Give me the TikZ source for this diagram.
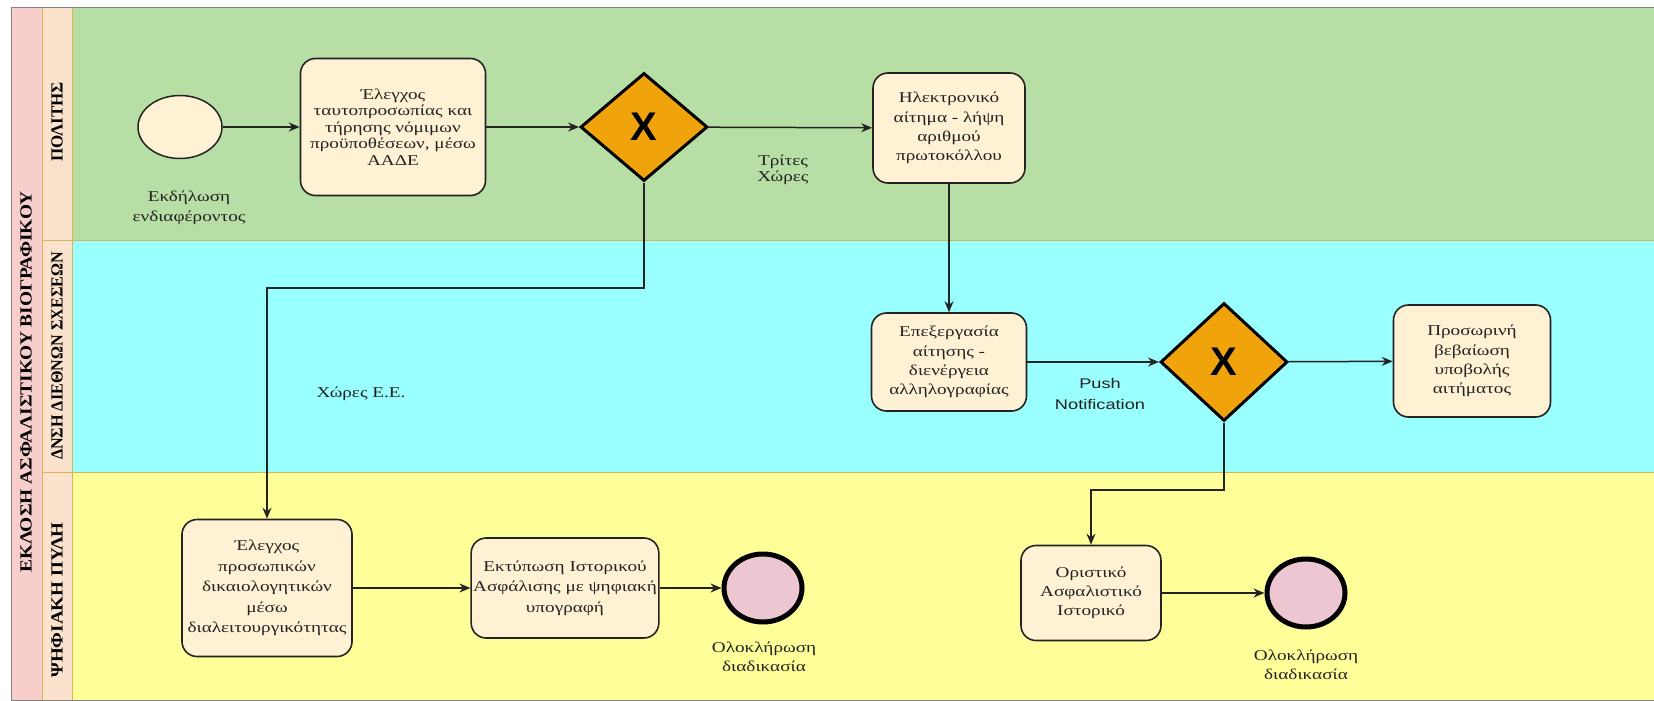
\documentclass[tikz,border=0pt]{standalone}
\usepackage{fontspec}
\setmainfont[FakeStretch=1.28]{Liberation Serif}
\newfontfamily\flowsans[FakeStretch=1.3]{Liberation Sans}
\newfontfamily\gatefont{Liberation Sans}
\newfontfamily\lanefont{Liberation Serif}
\usepackage{xcolor}
\usepackage{tikz}
\usetikzlibrary{arrows.meta}
\usetikzlibrary{shapes.geometric}

\definecolor{citizenlane}{RGB}{183,222,165}
\definecolor{officelane}{RGB}{153,255,255}
\definecolor{portallane}{RGB}{255,255,153}
\definecolor{poolfill}{RGB}{248,206,204}
\definecolor{poolline}{RGB}{200,110,110}
\definecolor{lanefill}{RGB}{251,226,204}
\definecolor{laneline}{RGB}{214,182,86}
\definecolor{taskfill}{RGB}{255,242,212}
\definecolor{gatefill}{RGB}{240,163,10}
\definecolor{endfill}{RGB}{236,198,208}
\definecolor{inkgray}{RGB}{35,35,35}

\begin{document}
\begin{tikzpicture}[x=1pt,y=-1pt,
    task/.style={draw=inkgray, line width=1.6pt, fill=taskfill, rounded corners=15pt,
        align=center, text=inkgray, font=\fontsize{15}{19.3}\selectfont, inner sep=2pt},
    gate/.style={diamond, draw=black, line width=3pt, fill=gatefill, inner sep=0pt,
        text=black, font=\gatefont\bfseries\fontsize{40}{40}\selectfont},
    startev/.style={ellipse, draw=inkgray, line width=1.5pt, fill=taskfill, inner sep=0pt,
        minimum width=84pt, minimum height=63pt},
    endev/.style={ellipse, draw=black, line width=5pt, fill=endfill, inner sep=0pt,
        minimum width=78pt, minimum height=68pt},
    caption/.style={align=center, text=inkgray, font=\fontsize{15}{19.5}\selectfont},
    lanetitle/.style={rotate=90, text=black, font=\lanefont\bfseries\fontsize{17}{17}\selectfont},
    flow/.style={draw=inkgray, line width=1.5pt, -{Stealth[length=11pt,width=9pt]}}]
    \useasboundingbox (0,0) rectangle (1654,701);
    \fill[white] (0,0) rectangle (1654,701);
    \fill[citizenlane] (72,8) rectangle (1654,240);
    \fill[officelane] (72,240) rectangle (1654,472);
    \fill[portallane] (72,472) rectangle (1654,700);
    \draw[laneline, line width=1pt] (72,240) -- (1654,240);
    \draw[laneline, line width=1pt] (72,472) -- (1654,472);
    \draw[poolline, fill=poolfill, line width=1pt] (11,8) rectangle (42,700);
    \draw[laneline, fill=lanefill, line width=1pt] (42,8) rectangle (72,240);
    \draw[laneline, fill=lanefill, line width=1pt] (42,240) rectangle (72,472);
    \draw[laneline, fill=lanefill, line width=1pt] (42,472) rectangle (72,700);
    \draw[gray, line width=1pt] (11,8) rectangle (1654,700);
    \node[lanetitle] (pool) at (26,382) {\scalebox{1.14}[1]{ΕΚΛΟΣΗ ΑΣΦΑΛΙΣΤΙΚΟΥ ΒΙΟΓΡΑΦΙΚΟΥ}};
    \node[lanetitle] (citizen) at (57,122) {ΠΟΛΙΤΗΣ};
    \node[lanetitle] (office) at (57,356) {\scalebox{0.95}[1]{ΔΝΣΗ ΔΙΕΘΝΩΝ ΣΧΕΣΕΩΝ}};
    \node[lanetitle] (portal) at (57,600) {\scalebox{1.12}[1]{ΨΗΦΙΑΚΗ ΠΥΛΗ}};

    \node[startev] (start) at (180,127) {};
    \node[caption] (startlbl) at (189,208) {Εκδήλωση\\ενδιαφέροντος};
    \node[task, minimum width=185pt, minimum height=137pt, font=\fontsize{15}{16.5}\selectfont] (idcheck) at (393,127)
        {Έλεγχος\\ταυτοπροσωπίας και\\τήρησης νόμιμων\\προϋποθέσεων, μέσω\\ΑΑΔΕ};
    \node[gate, minimum width=127pt, minimum height=108pt] (country) at (644,127) {X};
    \node[task, minimum width=152pt, minimum height=110pt] (request) at (949,128)
        {Ηλεκτρονικό\\αίτημα - λήψη\\αριθμού\\πρωτοκόλλου};
    \node[caption, font=\fontsize{15}{16}\selectfont] (thirdlbl) at (783,170) {Τρίτες\\Χώρες};
    \node[task, minimum width=155pt, minimum height=98pt] (process) at (949,362)
        {Επεξεργασία\\αίτησης -\\διενέργεια\\αλληλογραφίας};
    \node[gate, minimum width=127pt, minimum height=118pt] (notify) at (1224,362) {X};
    \node[caption, font=\flowsans\fontsize{14}{21}\selectfont] (pushlbl) at (1100,394) {Push\\Notification};
    \node[task, minimum width=157pt, minimum height=112pt] (interim) at (1472,361)
        {Προσωρινή\\βεβαίωση\\υποβολής\\αιτήματος};
    \node[task, minimum width=140pt, minimum height=95pt] (final) at (1091,593)
        {Οριστικό\\Ασφαλιστικό\\Ιστορικό};
    \node[endev] (endb) at (1306,593) {};
    \node[caption] (endblbl) at (1306,665) {Ολοκλήρωση\\διαδικασία};
    \node[task, minimum width=170pt, minimum height=137pt, font=\fontsize{15}{20.5}\selectfont] (docs) at (267,588)
        {Έλεγχος\\προσωπικών\\δικαιολογητικών\\μέσω\\διαλειτουργικότητας};
    \node[task, minimum width=186pt, minimum height=100pt, font=\fontsize{15}{20.5}\selectfont] (print) at (565,588)
        {Εκτύπωση Ιστορικού\\Ασφάλισης με ψηφιακή\\υπογραφή};
    \node[endev] (enda) at (763,588) {};
    \node[caption] (endalbl) at (764,657) {Ολοκλήρωση\\διαδικασία};
    \node[caption] (eulbl) at (361,394) {Χώρες Ε.Ε.};

    \coordinate (eubend) at (267,288);
    \coordinate (finbend) at (1091,490);
    \draw[flow] (start) -- (idcheck);
    \draw[flow] (idcheck) -- (country);
    \draw[flow] (country) -- (request);
    \draw[flow] (request) -- (process);
    \draw[flow] (process) -- (notify);
    \draw[flow] (notify) -- (interim);
    \draw[flow] (country.south) |- (eubend) -- (docs.north);
    \draw[flow] (notify.south) |- (finbend) -- (final.north);
    \draw[flow] (docs) -- (print);
    \draw[flow] (print) -- (enda);
    \draw[flow] (final) -- (endb);
\end{tikzpicture}
\end{document}
